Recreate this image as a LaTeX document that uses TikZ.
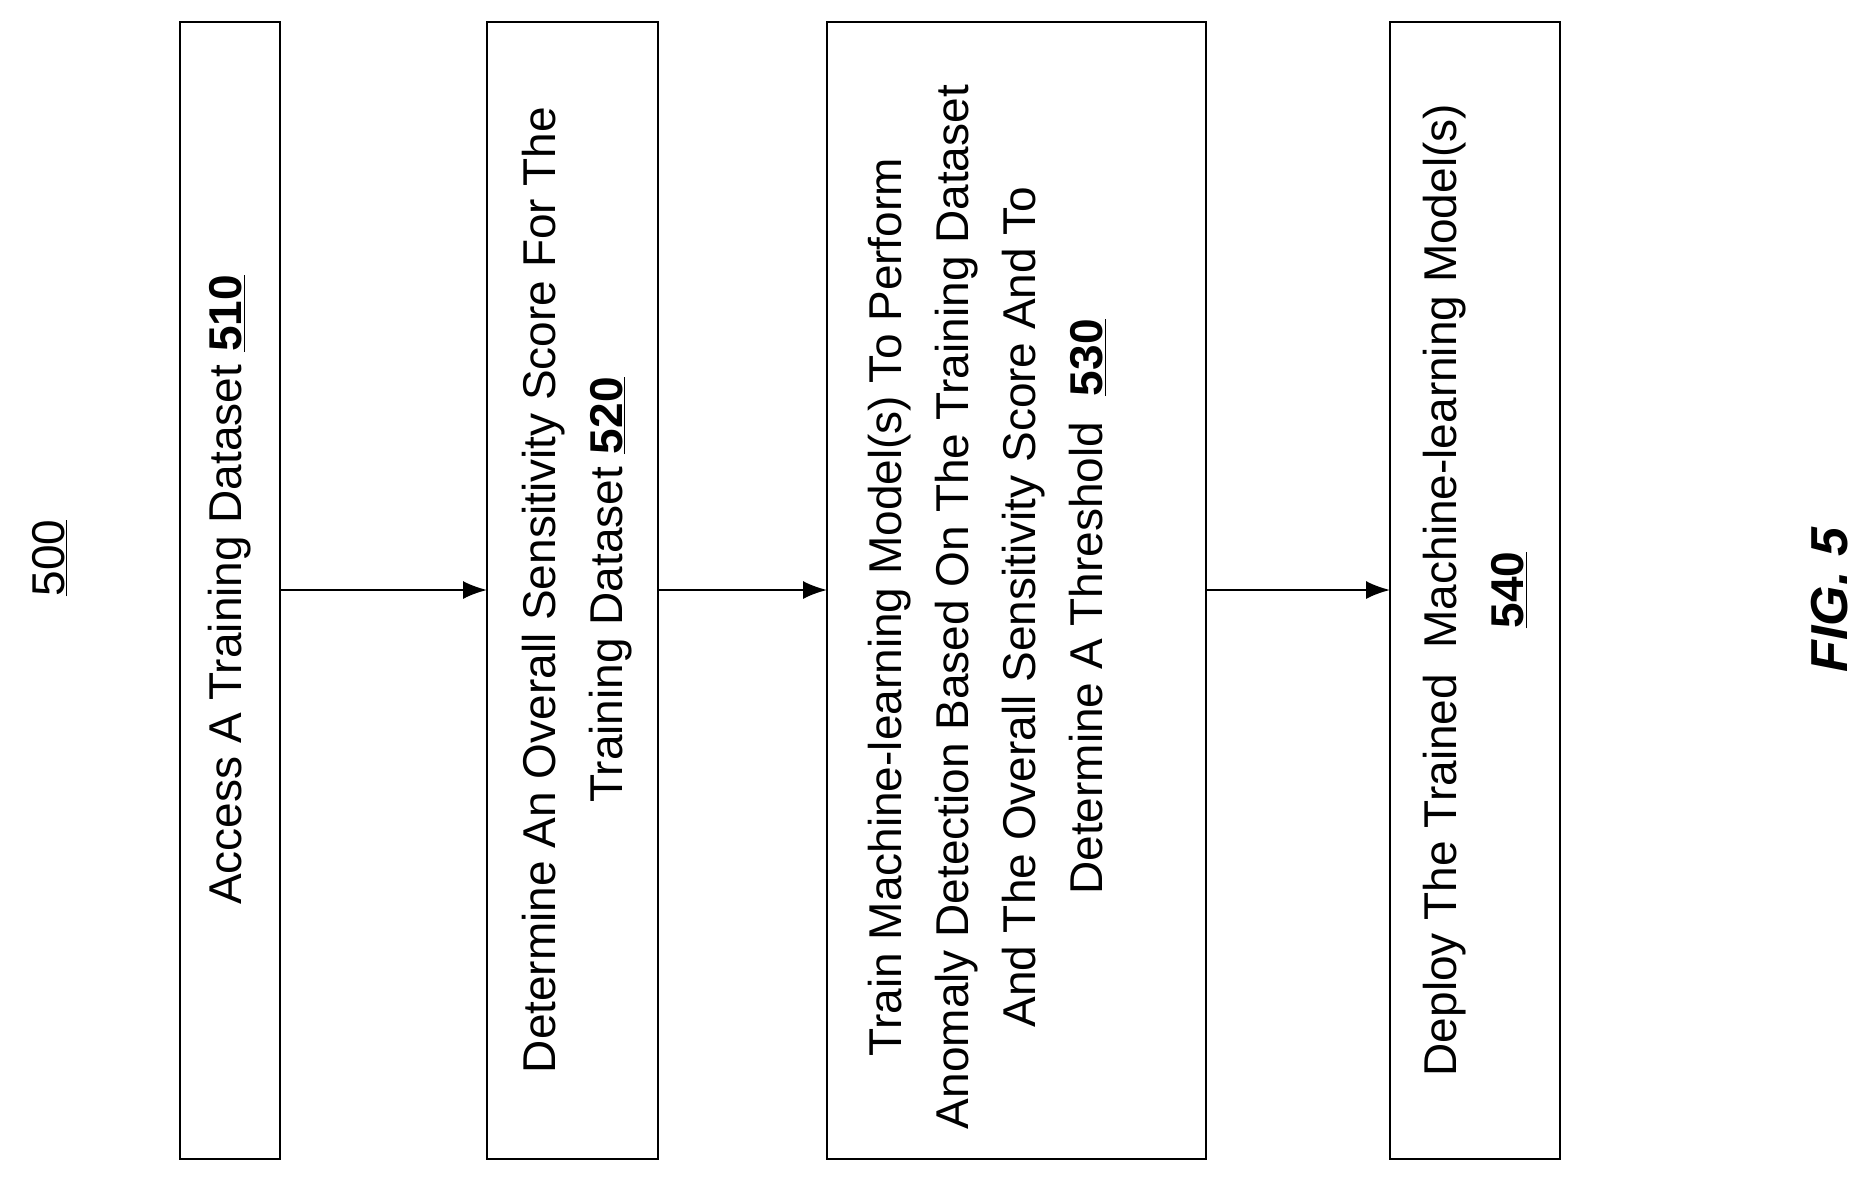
\documentclass[tikz,border=0pt]{standalone}
\usepackage{fontspec}
\setmainfont{Liberation Sans}
\usetikzlibrary{arrows.meta}
\begin{document}
\begin{tikzpicture}[x=1pt,y=-1pt,
  box/.style={draw,line width=2.2pt},
  lbl/.style={rotate=90,align=center,font=\fontsize{46}{67}\selectfont},
  arr/.style={-{Latex[length=24pt,width=18pt]},line width=2pt}]
\useasboundingbox (0,0) rectangle (1875,1178);
\draw[box] (180,22) rectangle (280,1159);
\draw[box] (487,22) rectangle (658,1159);
\draw[box] (827,22) rectangle (1206,1159);
\draw[box] (1390,22) rectangle (1560,1159);
\node[lbl] (t1) at (230,590) {Access A Training Dataset \textbf{\underline{510}}};
\node[lbl] (t2) at (577,590) {Determine An Overall Sensitivity Score For The\\Training Dataset \textbf{\underline{520}}};
\node[lbl] (t3) at (987,607) {Train Machine-learning Model(s) To Perform\\Anomaly Detection Based On The Training Dataset\\And The Overall Sensitivity Score And To\\Determine A Threshold \ \textbf{\underline{530}}};
\node[lbl] (t4) at (1475,590) {Deploy The Trained \ Machine-learning Model(s)\\\textbf{\underline{540}}};
\coordinate (a1) at (280,590); \coordinate (b1) at (487,590);
\coordinate (a2) at (658,590); \coordinate (b2) at (827,590);
\coordinate (a3) at (1206,590); \coordinate (b3) at (1390,590);
\draw[arr] (a1) -- (b1);
\draw[arr] (a2) -- (b2);
\draw[arr] (a3) -- (b3);
\node[lbl] (n500) at (50,558) {\underline{500}};
\node[rotate=90,font=\fontsize{52}{60}\selectfont\bfseries\itshape] (fig) at (1830,600) {FIG. 5};
\end{tikzpicture}
\end{document}
